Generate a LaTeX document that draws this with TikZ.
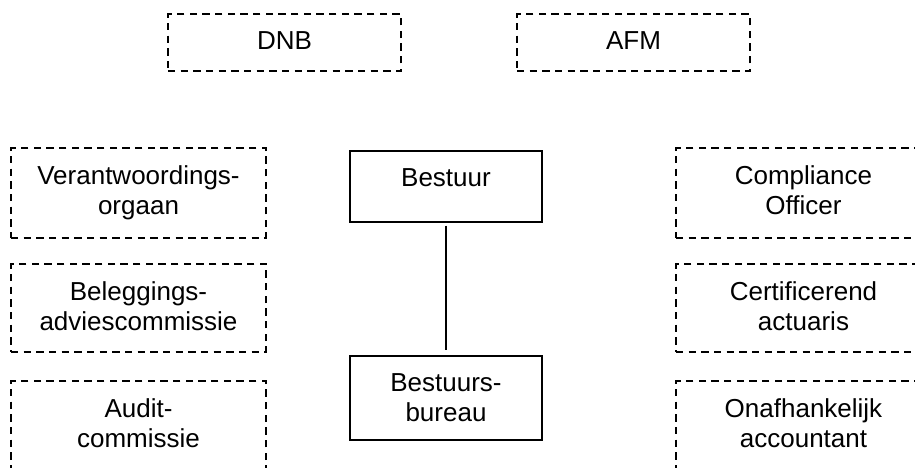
\documentclass[tikz,border=0pt]{standalone}
\usepackage{fontspec}
\setmainfont{Liberation Sans}
\newcommand\bxtext[3]{\parbox[c][#2][t]{#1}{\centering\vspace*{13pt}#3\par}}
\tikzset{
  dbox/.style={draw, dash pattern=on 5.5pt off 4pt, line width=1.2pt, inner sep=0pt,
    font=\fontsize{19.5}{22.5}\selectfont},
  sbox/.style={draw, line width=1pt, inner sep=0pt,
    font=\fontsize{19.5}{22.5}\selectfont},
  conn/.style={line width=1pt, shorten <=2.25pt, shorten >=3.75pt}
}
\begin{document}
\begin{tikzpicture}[x=0.75pt,y=-0.75pt]
  \clip (0,0) rectangle (915,468);
  % top regulators
  \node[dbox] (dnb) at (284.5,42.5) {\bxtext{174.75pt}{42.75pt}{DNB}};
  \node[dbox] (afm) at (633.5,42.5) {\bxtext{174.75pt}{42.75pt}{AFM}};
  % left column
  \node[dbox] (vo) at (138.5,193) {\bxtext{191.25pt}{67.5pt}{Verantwoordings-\\orgaan}};
  \node[dbox] (bac) at (138.5,308) {\bxtext{191.25pt}{66pt}{Beleggings-\\adviescommissie}};
  \node[dbox] (ac) at (138.5,426) {\bxtext{191.25pt}{67.5pt}{Audit-\\commissie}};
  % right column
  \node[dbox] (co) at (803.5,193) {\bxtext{191.25pt}{67.5pt}{Compliance\\Officer}};
  \node[dbox] (ca) at (803.5,308) {\bxtext{191.25pt}{66pt}{Certificerend\\actuaris}};
  \node[dbox] (oa) at (803.5,426) {\bxtext{191.25pt}{67.5pt}{Onafhankelijk\\accountant}};
  % centre
  \node[sbox] (bestuur) at (446,186.5) {\bxtext{144pt}{53.25pt}{Bestuur}};
  \node[sbox] (bureau) at (446,398) {\bxtext{144pt}{63pt}{Bestuurs-\\bureau}};
  \draw[conn] (bestuur.south) -- (bureau.north);
\end{tikzpicture}
\end{document}
